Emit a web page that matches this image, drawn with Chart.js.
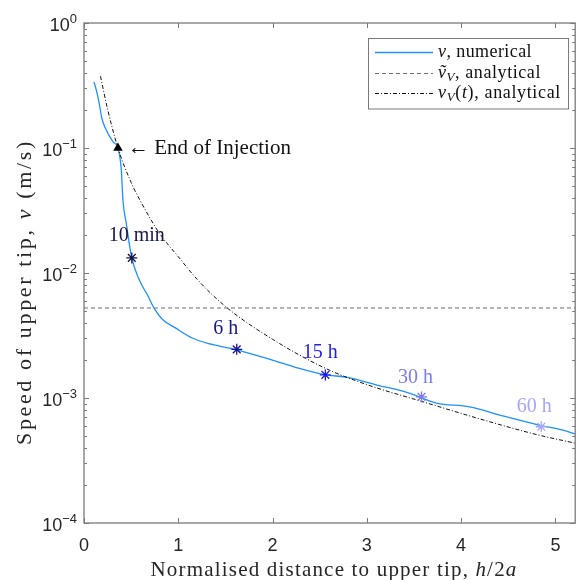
<!DOCTYPE html>
<html>
<head>
<meta charset="utf-8">
<script src="https://cdn.jsdelivr.net/npm/chart.js@4"></script>
<style>
  html, body { margin: 0; padding: 0; background: #fff; }
  #wrap { width: 582px; height: 580px; }
</style>
</head>
<body>
<div id="wrap"><canvas id="tipChart" width="582" height="580"></canvas></div>
<script>
// numerical tip speed
const xNum = [0.105, 0.116, 0.140, 0.168, 0.186, 0.221, 0.308, 0.360, 0.396, 0.413, 0.449, 0.507,
  0.588, 0.675, 0.746, 0.833, 0.974, 1.148, 1.324, 1.568, 1.883, 2.234, 2.549, 2.794, 3.109,
  3.459, 3.600, 3.739, 4.089, 4.440, 4.825, 5.071, 5.210];
const vNum = [0.337, 0.318, 0.272, 0.213, 0.177, 0.147, 0.112, 0.100, 0.0664, 0.0382, 0.0248, 0.0132,
  0.00875, 0.00663, 0.00519, 0.00425, 0.00362, 0.00302, 0.00272, 0.00248, 0.00213, 0.00177, 0.00154, 0.00146, 0.00127,
  0.00109, 0.00099, 0.00091, 0.00085, 0.00072, 0.000608, 0.000555, 0.000515];

// analytical v_V(t)
const xAna = [0.175, 0.25, 0.36, 0.5, 0.65, 0.8, 1.0, 1.2, 1.5, 2.0, 2.566, 3.0, 3.58, 4.2, 4.8, 5.21];
const vAna = [0.375, 0.205, 0.1, 0.053, 0.032, 0.0208, 0.0135, 0.0089, 0.0054, 0.00295, 0.00172, 0.00128, 0.00094, 0.00068, 0.00051, 0.000435];

// constant analytical speed
const vTilde = 0.00525;

// end of injection
const injX = 0.36;
const injV = 0.1;

// time stamps along the numerical curve
const markLabels = ['10 min', '6 h', '15 h', '30 h', '60 h'];
const markX = [0.507, 1.62, 2.56, 3.58, 4.85];
const markV = [0.0132, 0.00245, 0.00153, 0.00102, 0.000589];
const markColors = ['#17174a', '#16168f', '#1e1ee8', '#7a7af5', '#a6a6fa'];

const xTicks = [0, 1, 2, 3, 4, 5];
const yTicks = [1, 0.1, 0.01, 0.001, 0.0001];
const yTickExp = ['0', '-1', '-2', '-3', '-4'];

const X_MAX = 5.21;
const BLUE = 'rgb(30,144,255)';
const AXIS = '#7a7a7a';
const SERIF = '"Liberation Serif", "Times New Roman", serif';
const SANS = '"Liberation Sans", Arial, sans-serif';

// text label offsets from their star (px)
const markOffsets = [[5, -22], [-11, -21], [-5, -22], [-6, -19], [-7, -20]];

function fontFor(s, size) {
  const sz = s === 'si' ? Math.round(size * 0.7) : size;
  return (s.indexOf('i') >= 0 ? 'italic ' : '') + sz + 'px ' + SERIF;
}
function segWidth(ctx, t, s, size) {
  ctx.font = fontFor(s, size);
  ctx.letterSpacing = '0px';
  return ctx.measureText(t).width;
}
// draws a run of text pieces; style: '' roman, 'i' italic, 'si' italic subscript.
// fitWidth stretches the letter spacing so the run spans that many pixels.
function drawRich(ctx, segs, x, y, size, align, fitWidth) {
  let natural = 0, chars = 0;
  segs.forEach(([t, s]) => { natural += segWidth(ctx, t, s, size); chars += t.length; });
  const sp = fitWidth ? (fitWidth - natural) / chars : 0;
  const w = natural + sp * chars;
  let cx = align === 'center' ? x - w / 2 : x;
  ctx.textAlign = 'left';
  ctx.textBaseline = 'middle';
  segs.forEach(([t, s]) => {
    const nw = segWidth(ctx, t, s, size);
    ctx.letterSpacing = sp.toFixed(2) + 'px';
    ctx.fillText(t, cx, s === 'si' ? y + size * 0.25 : y);
    cx += nw + sp * t.length;
  });
  ctx.letterSpacing = '0px';
}

const matlabAxes = {
  id: 'matlabAxes',
  afterDraw(chart) {
    const ctx = chart.ctx;
    const xs = chart.scales.x, ys = chart.scales.y;
    const a = chart.chartArea;
    ctx.save();

    // box
    ctx.strokeStyle = AXIS;
    ctx.lineWidth = 1.3;
    ctx.strokeRect(a.left, a.top, a.right - a.left, a.bottom - a.top);

    // x ticks, inward on bottom and top
    ctx.lineWidth = 1;
    ctx.beginPath();
    xTicks.forEach(v => {
      const px = Math.round(xs.getPixelForValue(v)) + 0.5;
      ctx.moveTo(px, a.bottom); ctx.lineTo(px, a.bottom - 5);
      ctx.moveTo(px, a.top); ctx.lineTo(px, a.top + 5);
    });
    // y ticks, majors and minors on both sides
    for (let e = -4; e <= 0; e++) {
      for (let k = 1; k <= 9; k++) {
        const v = k * Math.pow(10, e);
        if (v > 1) break;
        const py = Math.round(ys.getPixelForValue(v)) + 0.5;
        const len = k === 1 ? 5 : 3;
        ctx.moveTo(a.left, py); ctx.lineTo(a.left + len, py);
        ctx.moveTo(a.right, py); ctx.lineTo(a.right - len, py);
      }
    }
    ctx.stroke();

    // tick labels
    ctx.fillStyle = '#262626';
    ctx.font = '18px ' + SANS;
    ctx.textAlign = 'center';
    ctx.textBaseline = 'middle';
    xTicks.forEach(v => ctx.fillText(String(v), xs.getPixelForValue(v), a.bottom + 23));

    yTicks.forEach((v, i) => {
      const py = ys.getPixelForValue(v);
      const ex = yTickExp[i].replace('-', '\u2212');
      ctx.font = '13px ' + SANS;
      const ew = ctx.measureText(ex).width;
      ctx.textAlign = 'left';
      ctx.fillText(ex, 77 - ew, py - 4);
      ctx.font = '18px ' + SANS;
      ctx.textAlign = 'right';
      ctx.fillText('10', 77 - ew, py + 3);
    });

    // axis titles
    ctx.fillStyle = '#262626';
    drawRich(ctx, [['Normalised distance to upper tip, ', ''], ['h', 'i'], ['/2', ''], ['a', 'i']],
      334, 570, 21, 'center', 367);
    ctx.save();
    ctx.translate(25, 292);
    ctx.rotate(-Math.PI / 2);
    drawRich(ctx, [['Speed of upper tip, ', ''], ['v', 'i'], [' (m/s)', '']], 0, 0, 22, 'center', 306);
    ctx.restore();

    // end of injection note
    ctx.fillStyle = '#111';
    drawRich(ctx, [['\u2190 End of Injection', '']],
      xs.getPixelForValue(injX) + 10, ys.getPixelForValue(injV), 21, 'left', 163);

    // time stamps
    markLabels.forEach((t, i) => {
      ctx.fillStyle = markColors[i];
      drawRich(ctx, [[t, '']], xs.getPixelForValue(markX[i]) + markOffsets[i][0],
        ys.getPixelForValue(markV[i]) + markOffsets[i][1], 20, 'center');
    });

    // legend
    const lx = 368.5, ly = 38.5, lw = 200, lh = 70.5;
    ctx.fillStyle = '#fff';
    ctx.fillRect(lx, ly, lw, lh);
    ctx.strokeStyle = AXIS;
    ctx.lineWidth = 1;
    ctx.strokeRect(lx, ly, lw, lh);
    const rows = [
      { ds: chart.data.datasets[2], y: 52, w: 94, segs: [['v', 'i'], [', numerical', '']] },
      { ds: chart.data.datasets[3], y: 73, w: 103, segs: [['\u1E7D', 'i'], ['V', 'si'], [', analytical', '']] },
      { ds: chart.data.datasets[4], y: 93, w: 123, segs: [['v', 'i'], ['V', 'si'], ['(', ''], ['t', 'i'], ['), analytical', '']] }
    ];
    rows.forEach(r => {
      ctx.strokeStyle = r.ds.borderColor;
      ctx.lineWidth = r.ds.borderWidth;
      ctx.setLineDash(r.ds.borderDash || []);
      ctx.beginPath();
      ctx.moveTo(375, r.y + 0.5); ctx.lineTo(433, r.y + 0.5);
      ctx.stroke();
      ctx.setLineDash([]);
      ctx.fillStyle = '#111';
      drawRich(ctx, r.segs, 438, r.y, 18, 'left', r.w);
    });

    ctx.restore();
  }
};

const toPts = (xa, ya) => xa.map((x, i) => ({ x: x, y: ya[i] }));

new Chart(document.getElementById('tipChart').getContext('2d'), {
  type: 'scatter',
  data: {
    datasets: [
      {
        label: 'time stamps',
        data: toPts(markX, markV),
        showLine: false,
        pointStyle: 'star',
        pointRadius: 5.5,
        pointBorderWidth: 1.3,
        pointBorderColor: markColors,
        pointBackgroundColor: markColors,
        order: 0
      },
      {
        label: 'End of Injection',
        data: [{ x: injX, y: injV }],
        showLine: false,
        pointStyle: 'triangle',
        pointRadius: 5.5,
        pointBorderWidth: 0,
        pointBackgroundColor: '#000',
        order: 0
      },
      {
        label: 'v, numerical',
        data: toPts(xNum, vNum),
        showLine: true,
        borderColor: BLUE,
        borderWidth: 1.3,
        pointRadius: 0,
        cubicInterpolationMode: 'monotone',
        order: 2
      },
      {
        label: 'v~_V, analytical',
        data: [{ x: 0, y: vTilde }, { x: X_MAX, y: vTilde }],
        showLine: true,
        borderColor: '#6f6f6f',
        borderWidth: 1,
        borderDash: [4, 3],
        pointRadius: 0,
        order: 3
      },
      {
        label: 'v_V(t), analytical',
        data: toPts(xAna, vAna),
        showLine: true,
        borderColor: '#111',
        borderWidth: 1,
        borderDash: [4, 2, 1, 2],
        pointRadius: 0,
        cubicInterpolationMode: 'monotone',
        order: 1
      }
    ]
  },
  options: {
    responsive: false,
    animation: false,
    devicePixelRatio: 1,
    layout: { padding: { left: 84, right: 2, top: 23, bottom: 57 } },
    plugins: { legend: { display: false }, tooltip: { enabled: false } },
    scales: {
      x: { type: 'linear', min: 0, max: X_MAX, display: false },
      y: { type: 'logarithmic', min: 0.0001, max: 1, display: false }
    }
  },
  plugins: [matlabAxes]
});
</script>
</body>
</html>
